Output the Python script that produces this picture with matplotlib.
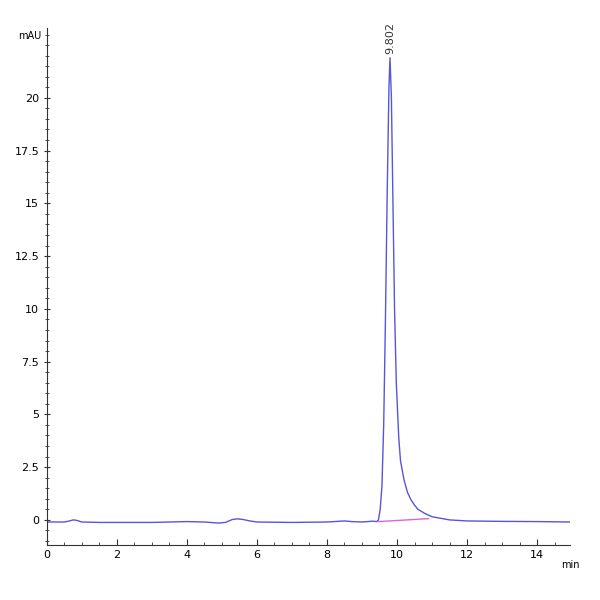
import numpy as np
import matplotlib.pyplot as plt
from matplotlib.ticker import MultipleLocator, FixedLocator

# chromatogram trace (min, mAU)
time = [0.0, 0.5, 0.65, 0.75, 0.85, 1.0, 1.5, 2.0, 3.0, 3.5, 4.0, 4.5, 4.9, 5.1,
        5.3, 5.45, 5.6, 5.8, 6.0, 7.0, 8.0, 8.5, 8.7, 9.0, 9.3, 9.42, 9.47,
        9.52, 9.57, 9.62, 9.67, 9.72, 9.77, 9.80, 9.84, 9.88, 9.93, 9.98,
        10.05, 10.1, 10.2, 10.3, 10.4, 10.5, 10.6, 10.8, 11.0, 11.5, 12.0,
        13.0, 14.0, 14.94]
signal = [-0.1, -0.1, -0.05, 0.0, -0.02, -0.1, -0.12, -0.12, -0.12, -0.1, -0.08,
          -0.1, -0.15, -0.12, 0.02, 0.05, 0.02, -0.05, -0.1, -0.12, -0.1, -0.05,
          -0.08, -0.1, -0.06, -0.08, 0.0, 0.5, 1.6, 4.5, 9.5, 15.5, 20.5, 21.9,
          20.0, 15.5, 10.0, 6.5, 3.9, 2.8, 1.9, 1.3, 0.95, 0.7, 0.5, 0.3, 0.15,
          0.0, -0.05, -0.07, -0.08, -0.1]

# integration baseline under the peak
base_t = [9.47, 10.9]
base_y = [-0.08, 0.06]

peak_rt = 9.802
peak_h = 21.9

y_labels = [0, 2.5, 5, 7.5, 10, 12.5, 15, 17.5, 20]

fig = plt.figure(figsize=(6, 6), dpi=100)
ax = fig.add_axes([0.078, 0.092, 0.872, 0.861])

ax.plot(time, signal, color='#5555dd', lw=1.0)
ax.plot(base_t, base_y, color='#e060e0', lw=1.0)
ax.text(peak_rt, peak_h + 0.2, '%.3f' % peak_rt, rotation=90, ha='center',
        va='bottom', fontsize=8, color='#333333')

ax.set_xlim(0, 14.94)
ax.set_ylim(-1.18, 23.3)
ax.xaxis.set_major_locator(MultipleLocator(2))
ax.xaxis.set_minor_locator(MultipleLocator(0.5))
ax.yaxis.set_major_locator(FixedLocator(y_labels))
ax.yaxis.set_minor_locator(MultipleLocator(0.5))
ax.tick_params(which='both', labelsize=8, color='#333333')
ax.tick_params(which='major', length=4)
ax.tick_params(which='minor', length=2.5)
ax.tick_params(axis='y', which='both', direction='inout')
ax.tick_params(axis='x', which='both', direction='in')

ax.yaxis.set_major_formatter(plt.FuncFormatter(lambda v, p: '%g' % v))

for s in ['top', 'right']:
    ax.spines[s].set_visible(False)
for s in ['left', 'bottom']:
    ax.spines[s].set_color('#333333')
    ax.spines[s].set_linewidth(0.8)

ax.text(-0.01, 0.985, 'mAU', transform=ax.transAxes, ha='right', va='center',
        fontsize=7)
ax.text(1.0, -0.03, 'min', transform=ax.transAxes, ha='center', va='top',
        fontsize=7)

fig.savefig('out.png', dpi=100)
